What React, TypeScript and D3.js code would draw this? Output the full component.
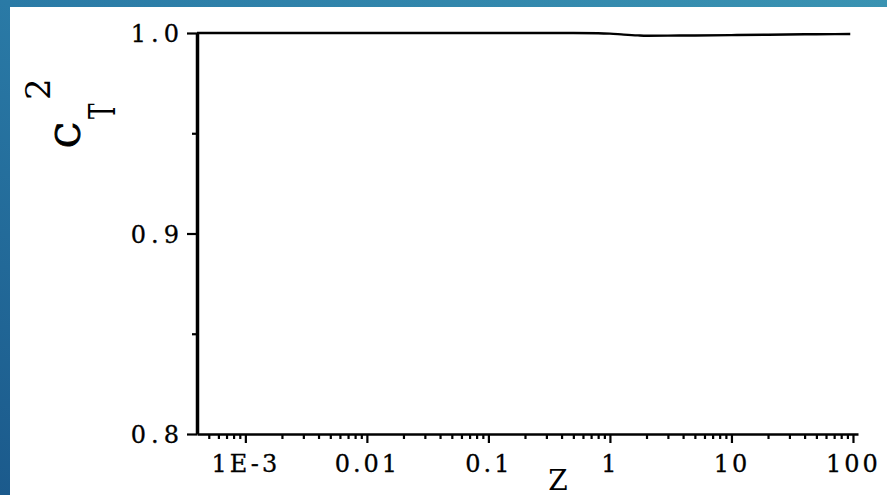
import React, { useRef, useEffect } from 'react';
import * as d3 from 'd3';

// z (log axis) and C_T^2
const zValues = [0.0004, 0.001, 0.01, 0.1, 0.3, 0.5, 0.8, 1, 1.3, 1.7, 2, 3, 5, 10, 20, 50, 95];
const ctValues = [1, 1, 1, 1, 1, 0.99998, 0.9999, 0.9997, 0.9992, 0.9988, 0.99865, 0.99868, 0.99878, 0.99895, 0.99915, 0.9994, 0.9995];
const xMajorTicks = [0.001, 0.01, 0.1, 1, 10, 100];
const xTickLabels = ['1E-3', '0.01', '0.1', '1', '10', '100'];
const yMajorTicks = [0.8, 0.9, 1.0];
const yMinorTicks = [0.85, 0.95];
const yTickLabels = ['0.8', '0.9', '1.0'];

const W = 887;
const H = 495;
const FONT = '"DejaVu Serif", "Liberation Serif", serif';

function App() {
  const svgRef = useRef<SVGSVGElement>(null);

  useEffect(() => {
    const svg = d3.select(svgRef.current);
    svg.selectAll('*').remove();

    const x = d3.scaleLog().domain([4e-4, 110]).range([197, 858]);
    const y = d3.scaleLinear().domain([0.8, 1.0]).range([434, 33]);

    // background
    const defs = svg.append('defs');
    const grad = defs.append('linearGradient').attr('id', 'bg')
      .attr('x1', '0').attr('y1', '1').attr('x2', '1').attr('y2', '0');
    grad.append('stop').attr('offset', '0').attr('stop-color', '#1b5a8c');
    grad.append('stop').attr('offset', '0.5').attr('stop-color', '#2a7aa6');
    grad.append('stop').attr('offset', '1').attr('stop-color', '#3a93b2');
    svg.append('rect').attr('width', W).attr('height', H).attr('fill', 'url(#bg)');
    svg.append('rect').attr('x', 10).attr('y', 7).attr('width', W - 10).attr('height', H - 7).attr('fill', '#fff');

    // minor x ticks
    const minors: number[] = [];
    for (let e = -4; e <= 2; e++) {
      for (let m = 2; m <= 9; m++) {
        const v = m * Math.pow(10, e);
        if (v > 4.5e-4 && v <= 110) minors.push(v);
      }
    }

    const xMinor = svg.append('g').attr('transform', 'translate(0,434)')
      .call(d3.axisBottom(x).tickValues(minors).tickSize(5).tickFormat(() => ''));
    xMinor.select('.domain').remove();
    xMinor.selectAll('line').attr('stroke', '#000').attr('stroke-width', 2.2);

    const xAxis = svg.append('g').attr('transform', 'translate(0,434)')
      .call(d3.axisBottom(x).tickValues(xMajorTicks).tickSize(9).tickSizeOuter(0)
        .tickFormat((d, i) => xTickLabels[i]));
    xAxis.select('.domain').attr('stroke', '#000').attr('stroke-width', 2.5);
    xAxis.selectAll('line').attr('stroke', '#000').attr('stroke-width', 2.2);
    xAxis.selectAll('text')
      .attr('font-family', FONT).attr('font-size', 24).attr('fill', '#000')
      .attr('stroke', '#000').attr('stroke-width', 0.3)
      .attr('letter-spacing', 3).attr('dy', null).attr('y', 38);

    const yMinor = svg.append('g').attr('transform', 'translate(197,0)')
      .call(d3.axisLeft(y).tickValues(yMinorTicks).tickSize(5).tickFormat(() => ''));
    yMinor.select('.domain').remove();
    yMinor.selectAll('line').attr('stroke', '#000').attr('stroke-width', 2.2);

    const yAxis = svg.append('g').attr('transform', 'translate(197,0)')
      .call(d3.axisLeft(y).tickValues(yMajorTicks).tickSize(10).tickSizeOuter(0)
        .tickFormat((d, i) => yTickLabels[i]));
    yAxis.select('.domain').attr('stroke', '#000').attr('stroke-width', 3.5);
    yAxis.selectAll('line').attr('stroke', '#000').attr('stroke-width', 2.2);
    yAxis.selectAll('text')
      .attr('font-family', FONT).attr('font-size', 24).attr('fill', '#000')
      .attr('stroke', '#000').attr('stroke-width', 0.3)
      .attr('letter-spacing', 5).attr('x', -13).attr('dy', '0.36em');

    // data line
    const line = d3.line<number>()
      .x((d, i) => x(zValues[i]))
      .y(d => y(d))
      .curve(d3.curveMonotoneX);
    svg.append('path').datum(ctValues)
      .attr('d', line)
      .attr('fill', 'none').attr('stroke', '#000').attr('stroke-width', 2.4);

    // axis titles
    svg.append('text').attr('x', 558).attr('y', 490).attr('text-anchor', 'middle')
      .attr('font-family', FONT).attr('font-size', 28).attr('fill', '#000').text('Z');

    const yt = svg.append('g').attr('transform', 'translate(80,148) rotate(-90)');
    yt.append('text').attr('x', 0).attr('y', 0)
      .attr('font-family', FONT).attr('font-size', 34).attr('fill', '#000')
      .attr('stroke', '#000').attr('stroke-width', 1).text('C');
    yt.append('text').attr('transform', 'translate(29,35) scale(0.75,1.2)')
      .attr('font-family', FONT).attr('font-size', 31).attr('fill', '#000').text('T');
    yt.append('text').attr('x', 48).attr('y', -30)
      .attr('font-family', FONT).attr('font-size', 34).attr('fill', '#000').text('2');
  }, []);

  return <svg ref={svgRef} width={W} height={H} style={{ position: 'absolute', left: 0, top: 0 }} />;
}

export default App;
